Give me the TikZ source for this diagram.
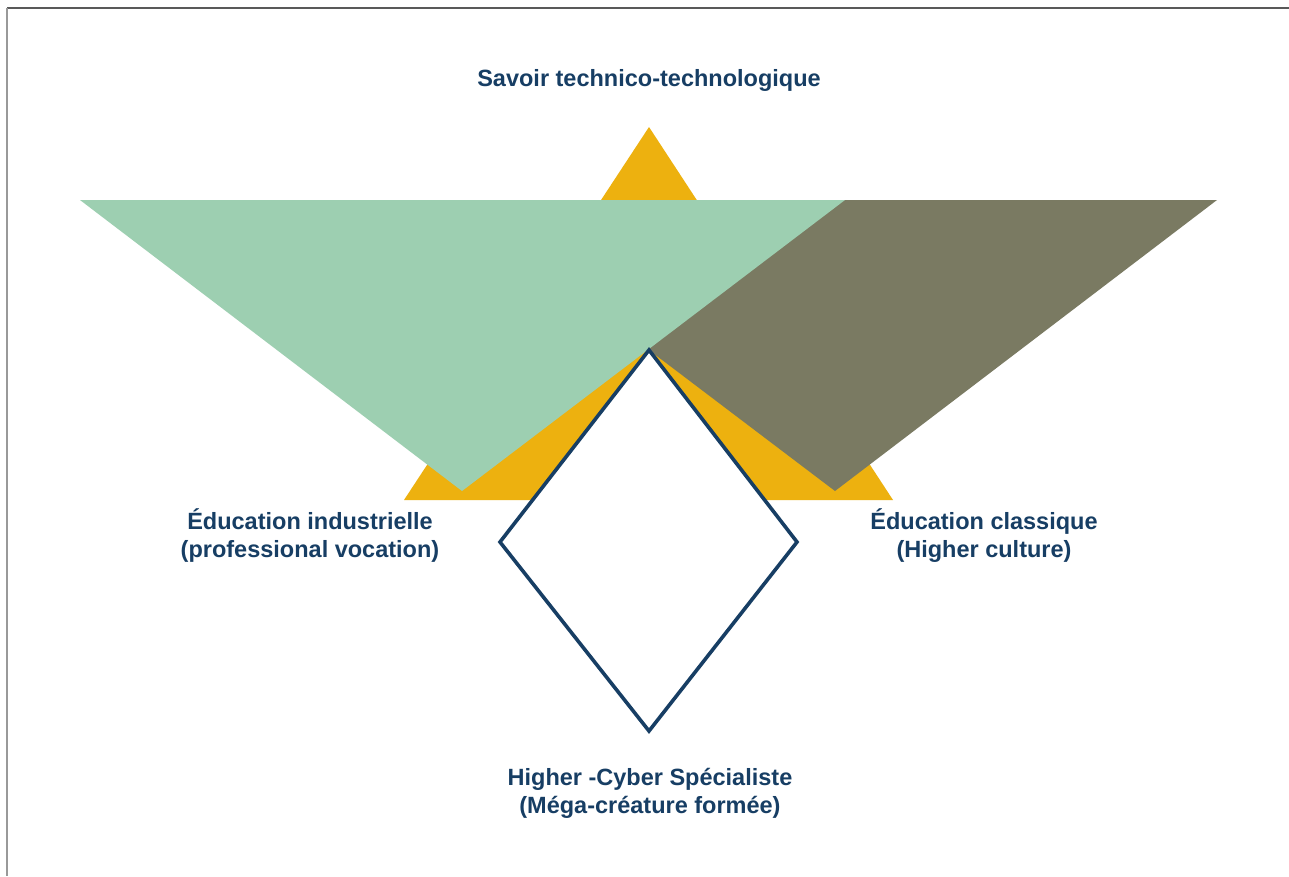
\documentclass[tikz,border=0pt]{standalone}
\usepackage{fontspec}
\setmainfont{Liberation Sans}
\begin{document}
\definecolor{gold}{HTML}{EDB10F}
\definecolor{sage}{HTML}{9DCFB1}
\definecolor{olive}{HTML}{7A7A62}
\definecolor{navy}{HTML}{173E64}
\begin{tikzpicture}[x=1pt,y=-1pt,
  label text/.style={text=navy,font=\bfseries\fontsize{23.5}{28}\selectfont,align=center,inner sep=0pt},
  frame edge/.style={line width=1.5pt}]
\useasboundingbox (0,0) rectangle (1289,876);
\fill[white] (0,0) rectangle (1289,876);
% frame edges along the top and left
\draw[frame edge,draw=black!65] (7,8) -- (1289,8);
\draw[frame edge,draw=black!40] (7,8) -- (7,876);

% key points
\coordinate (apex) at (649,127);
\coordinate (goldL) at (404,500);
\coordinate (goldR) at (893,500);
\coordinate (sageL) at (80,200);
\coordinate (sageR) at (845,200);
\coordinate (sageB) at (462,491);
\coordinate (oliveL) at (451,200);
\coordinate (oliveR) at (1217,200);
\coordinate (oliveB) at (835,491);
\coordinate (dT) at (649,350);
\coordinate (dL) at (500,542);
\coordinate (dR) at (797,542);
\coordinate (dB) at (649,731);

% stacked triangles
\fill[gold] (apex) -- (goldR) -- (goldL) -- cycle;
\fill[olive] (oliveL) -- (oliveR) -- (oliveB) -- cycle;
\fill[sage] (sageL) -- (sageR) -- (sageB) -- cycle;

% central diamond
\draw[navy,fill=white,line width=3.6pt,line join=miter] (dT) -- (dR) -- (dB) -- (dL) -- cycle;

% labels
\node[label text] (top) at (649,80) {Savoir technico-technologique};
\node[label text] (left) at (310,536) {Éducation industrielle\\(professional vocation)};
\node[label text] (right) at (984,536) {Éducation classique\\(Higher culture)};
\node[label text] (bottom) at (650,793) {Higher -Cyber Spécialiste\\(Méga-créature formée)};
\end{tikzpicture}
\end{document}
